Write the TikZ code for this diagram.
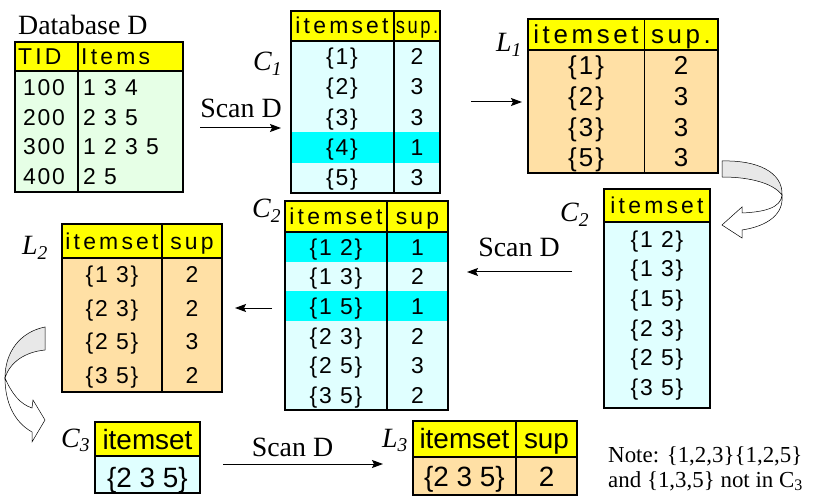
\documentclass[tikz,border=0pt]{standalone}
\usepackage{fontspec}
\setmainfont{Liberation Serif}
\newfontfamily\tabsans[LetterSpace=8]{Liberation Sans}
\newfontfamily\headsans[LetterSpace=14]{Liberation Sans}
\newfontfamily\plainsans{Liberation Sans}
\usetikzlibrary{arrows.meta}

\definecolor{hdyellow}{RGB}{255,255,0}
\definecolor{lcyan}{RGB}{224,255,255}
\definecolor{hcyan}{RGB}{0,255,255}
\definecolor{lgreen}{RGB}{230,255,230}
\definecolor{lorange}{RGB}{255,224,165}

\tikzset{
 frame/.style={draw=black, line width=2.5bp, inner sep=0pt},
 inner/.style={black, line width=1.5bp},
 cell/.style={anchor=base, inner sep=0pt, font=\tabsans\fontsize{23}{26}\selectfont},
 head/.style={anchor=base, inner sep=0pt, font=\headsans\fontsize{23}{26}\selectfont},
 bigcell/.style={anchor=base, inner sep=0pt, font=\tabsans\fontsize{26}{30}\selectfont},
 bighead/.style={anchor=base, inner sep=0pt, font=\headsans\fontsize{26}{30}\selectfont},
 plaincell/.style={anchor=base, inner sep=0pt, font=\plainsans\fontsize{28}{32}\selectfont},
 lbl/.style={anchor=base west, inner sep=0pt, font=\fontsize{28}{32}\selectfont\itshape},
 scan/.style={anchor=base, inner sep=0pt, font=\fontsize{28}{32}\selectfont},
 note/.style={anchor=base west, inner sep=0pt, font=\fontsize{23}{26}\selectfont},
 arr/.style={black, line width=1bp, -{Stealth[length=11bp,width=8bp,inset=2bp]}},
 band/.style={draw=black, line width=0.5bp},
}

\begin{document}
\begin{tikzpicture}[x=1bp, y=-1bp]
\useasboundingbox (0,0) rectangle (815,501);

% database D
\node[anchor=base west, inner sep=0pt, font=\fontsize{28}{32}\selectfont] (dbname) at (18,35) {Database D};
\fill[lgreen] (15,71) rectangle (183,192);
\fill[hdyellow] (15,42) rectangle (183,71);
\draw[inner] (15,71) -- (183,71) (78,42) -- (78,192);
\node[frame, minimum width=168bp, minimum height=150bp] (DB) at (99,117) {};
\node[head, anchor=base west] (tid) at (18,65) {TID};
\node[head, anchor=base west] (items) at (81,65) {Items};
\foreach \y/\t/\s in {88/100/1 3 4, 118/200/2 3 5, 147/300/1 2 3 5, 177/400/2 5} {
 \node[cell] (tid-\t) at (44,\y+8) {\t};
 \node[cell, anchor=base west] (it-\t) at (83,\y+8) {\s};
}

% C1
\fill[lcyan] (291,41) rectangle (440,193);
\fill[hcyan] (291,132.2) rectangle (440,162.6);
\fill[hdyellow] (291,11) rectangle (440,41);
\draw[inner] (291,41) -- (440,41) (394,11) -- (394,193);
\node[frame, minimum width=149bp, minimum height=182bp] (C1) at (365.5,102) {};
\node[head] (c1-h1) at (342,34) {itemset};
\node[head] (c1-h2) at (417,34) {\scalebox{0.8}[1]{sup.}};
\foreach \i/\s/\n in {1/1/2, 2/2/3, 3/3/3, 4/4/1, 5/5/3} {
 \node[cell] (c1-s\i) at (342,34+30.4*\i) {\{\s\}};
 \node[cell] (c1-n\i) at (417,34+30.4*\i) {\n};
}
\node[lbl] (lc1) at (253,71) {C\textsubscript{1}};

% L1
\fill[lorange] (528,50) rectangle (718,173);
\fill[hdyellow] (528,19) rectangle (718,50);
\draw[inner] (528,50) -- (718,50);
\draw[black, line width=1bp] (644,19) -- (644,173);
\node[frame, minimum width=190bp, minimum height=154bp] (L1) at (623,96) {};
\node[bighead] (l1-h1) at (586,43.8) {itemset};
\node[bighead] (l1-h2) at (681,43.8) {sup.};
\foreach \i/\s/\n in {1/1/2, 2/2/3, 3/3/3, 4/5/3} {
 \node[bigcell] (l1-s\i) at (586,43.9+30.75*\i) {\{\s\}};
 \node[bigcell] (l1-n\i) at (681,43.9+30.75*\i) {\n};
}
\node[lbl] (ll1) at (496,52) {L\textsubscript{1}};

% C2 (right)
\fill[lcyan] (604,222) rectangle (710,408);
\fill[hdyellow] (604,189) rectangle (710,222);
\draw[inner] (604,222) -- (710,222);
\node[frame, minimum width=106bp, minimum height=219bp] (C2a) at (657,298.5) {};
\node[head] (c2a-h) at (657,213.7) {itemset};
\foreach \i/\s in {1/1 2, 2/1 3, 3/1 5, 4/2 3, 5/2 5, 6/3 5} {
 \node[cell] (c2a-s\i) at (657,217.6+29.6*\i) {\{\s\}};
}
\node[lbl] (lc2a) at (560,222) {C\textsubscript{2}};

% C2 (middle)
\fill[lcyan] (285,232) rectangle (448,410);
\fill[hcyan] (285,232) rectangle (448,261.7);
\fill[hcyan] (285,291.3) rectangle (448,321);
\fill[hdyellow] (285,201) rectangle (448,232);
\draw[inner] (285,232) -- (448,232) (387,201) -- (387,410);
\node[frame, minimum width=163bp, minimum height=209bp] (C2b) at (366.5,305.5) {};
\node[head] (c2b-h1) at (336,224.7) {itemset};
\node[head] (c2b-h2) at (417.5,224.7) {sup};
\foreach \i/\s/\n in {1/1 2/1, 2/1 3/2, 3/1 5/1, 4/2 3/2, 5/2 5/3, 6/3 5/2} {
 \node[cell] (c2b-s\i) at (336,225.4+29.67*\i) {\{\s\}};
 \node[cell] (c2b-n\i) at (417.5,225.4+29.67*\i) {\n};
}
\node[lbl] (lc2b) at (252,218) {C\textsubscript{2}};

% L2
\fill[lorange] (62,258) rectangle (222,392);
\fill[hdyellow] (62,224) rectangle (222,258);
\draw[inner] (62,258) -- (222,258) (162,224) -- (162,392);
\node[frame, minimum width=160bp, minimum height=168bp] (L2) at (142,308) {};
\node[head] (l2-h1) at (112,249.2) {itemset};
\node[head] (l2-h2) at (192,249.2) {sup};
\foreach \i/\s/\n in {1/1 3/2, 2/2 3/2, 3/2 5/3, 4/3 5/2} {
 \node[cell] (l2-s\i) at (112,249.45+33.5*\i) {\{\s\}};
 \node[cell] (l2-n\i) at (192,249.45+33.5*\i) {\n};
}
\node[lbl] (ll2) at (22,255) {L\textsubscript{2}};

% C3
\fill[lcyan] (95,456) rectangle (200,493);
\fill[hdyellow] (95,422) rectangle (200,456);
\draw[inner] (95,456) -- (200,456);
\node[frame, minimum width=105bp, minimum height=71bp] (C3) at (147.5,457.5) {};
\node[plaincell] (c3-h) at (147.5,449) {itemset};
\node[plaincell] (c3-s1) at (147.5,487) {\{2 3 5\}};
\node[lbl] (lc3) at (61,447) {C\textsubscript{3}};

% L3
\fill[lorange] (413,457) rectangle (577,495);
\fill[hdyellow] (413,421) rectangle (577,457);
\draw[inner] (413,457) -- (577,457) (516,421) -- (516,495);
\node[frame, minimum width=164bp, minimum height=74bp] (L3) at (495,458) {};
\node[plaincell] (l3-h1) at (464.5,448) {itemset};
\node[plaincell] (l3-h2) at (546.5,448) {sup};
\node[plaincell] (l3-s1) at (464.5,486) {\{2 3 5\}};
\node[plaincell] (l3-n1) at (546.5,486) {2};
\node[lbl] (ll3) at (382,447) {L\textsubscript{3}};

% scans and arrows
\coordinate (a1s) at (200,128); \coordinate (a1e) at (281,128);
\coordinate (a2s) at (471,102); \coordinate (a2e) at (522,102);
\coordinate (a3s) at (572,272); \coordinate (a3e) at (467,272);
\coordinate (a4s) at (272,308); \coordinate (a4e) at (235,308);
\coordinate (a5s) at (223,464); \coordinate (a5e) at (383,464);
\draw[arr] (a1s) -- (a1e);
\draw[arr] (a2s) -- (a2e);
\draw[arr] (a3s) -- (a3e);
\draw[arr] (a4s) -- (a4e);
\draw[arr] (a5s) -- (a5e);
\node[scan] (scan1) at (241,118) {Scan D};
\node[scan] (scan2) at (519,257) {Scan D};
\node[scan] (scan3) at (292.5,456) {Scan D};

% curved arrows
\filldraw[band, fill=gray!18] (722,161) .. controls (757,160) and (783,172) .. (782,195)
 .. controls (774,184) and (752,177) .. (722,177) -- cycle;
\filldraw[band, fill=white] (782,195) .. controls (781,208) and (764,212) .. (742,213)
 -- (742,207) -- (722,225) -- (742,238) -- (742,230)
 .. controls (768,226) and (784,214) .. (782,195) -- cycle;
\filldraw[band, fill=gray!18] (45,327) .. controls (20,332) and (5,352) .. (5,378)
 .. controls (10,362) and (25,352) .. (45,350) -- cycle;
\filldraw[band, fill=white] (5,378) .. controls (12,394) and (20,404) .. (32,408)
 -- (33,400) -- (45,420) -- (32,442) -- (32,432)
 .. controls (14,422) and (5,402) .. (5,378) -- cycle;

% note
\node[note] (note1) at (608,462) {Note: \{1,2,3\}\{1,2,5\}};
\node[note] (note2) at (608,487) {and \{1,3,5\} not in C\textsubscript{3}};
\end{tikzpicture}
\end{document}
